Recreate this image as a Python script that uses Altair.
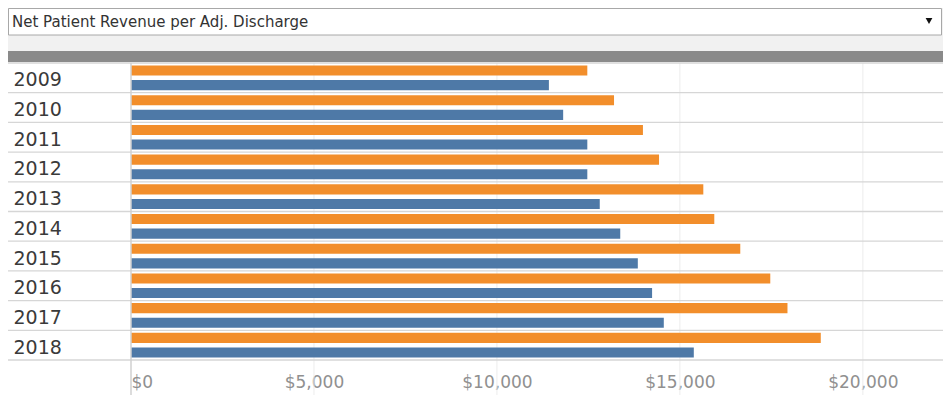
import altair as alt
import pandas as pd

# ---- data ----
years = ["2009", "2010", "2011", "2012", "2013", "2014", "2015", "2016", "2017", "2018"]
series_names = ["Hospital", "Peer Group"]
orange_values = [12470, 13200, 13990, 14430, 15640, 15940, 16650, 17470, 17940, 18850]
blue_values = [11420, 11810, 12470, 12470, 12810, 13370, 13850, 14240, 14560, 15380]
tick_values = [0, 5000, 10000, 15000, 20000]
grid_values = [5000, 10000, 15000, 20000]
menu_label = "Net Patient Revenue per Adj. Discharge"

colors = ["#F28E2B", "#4E79A7"]

rows = []
for i, y in enumerate(years):
    rows.append({"year": y, "series": series_names[0], "value": orange_values[i]})
    rows.append({"year": y, "series": series_names[1], "value": blue_values[i]})
df = pd.DataFrame(rows)
df_years = pd.DataFrame({"year": years})
df_grid = pd.DataFrame({"tick": grid_values})
one = pd.DataFrame({"k": [0]})

PW = 812   # plot width
PH = 297   # plot height (rows)
BOTTOM = 332

xscale = alt.Scale(domain=[0, 22190], nice=False, zero=True)
yscale = alt.Scale(paddingInner=0, paddingOuter=0)

x_axis = alt.Axis(values=tick_values, format="$,.0f", title=None, grid=False,
                  domain=False, ticks=False, tickSize=0, labelFlush=True,
                  labelFont="DejaVu Sans", labelFontSize=17, labelColor="#909090",
                  labelPadding=22, labelBaseline="middle")
y_axis = alt.Axis(title=None, grid=False, domain=False, ticks=False, tickSize=0,
                  labelAlign="left", labelPadding=118, labelBaseline="middle",
                  labelOffset=2.5,
                  labelFont="DejaVu Sans", labelFontSize=19, labelColor="#3a3a3a")

# ---- dashboard chrome ----
gray_band = alt.Chart(one).mark_rect(color="#8a8a8a").encode(
    x=alt.value(-123), x2=alt.value(PW), y=alt.value(-55), y2=alt.value(-1))
light_panel = alt.Chart(one).mark_rect(color="#f1f1f1").encode(
    x=alt.value(-123), x2=alt.value(PW), y=alt.value(-55), y2=alt.value(-12))
dropdown = alt.Chart(one).mark_rect(color="#ffffff", stroke="#a8a8a8", strokeWidth=1).encode(
    x=alt.value(-122.5), x2=alt.value(PW - 1.5), y=alt.value(-54.5), y2=alt.value(-28))
menu_text = alt.Chart(pd.DataFrame({"t": [menu_label]})).mark_text(
    align="left", baseline="middle", font="DejaVu Sans", fontSize=15, color="#333333"
).encode(text="t:N", x=alt.value(-119), y=alt.value(-41))
arrow = alt.Chart(one).mark_point(shape="triangle-down", filled=True, size=45,
                                  color="#111111", opacity=1).encode(
    x=alt.value(798), y=alt.value(-42))

# ---- grid / separators ----
grid = alt.Chart(df_grid).mark_rule(color="#ececec", strokeWidth=1).encode(
    x=alt.X("tick:Q", scale=xscale, axis=x_axis),
    y=alt.value(0), y2=alt.value(BOTTOM))
row_lines = alt.Chart(df_years).mark_rule(color="#d6d6d6", strokeWidth=1.3).encode(
    y=alt.Y("year:N", scale=yscale, sort=years, bandPosition=0, axis=y_axis),
    x=alt.value(-123), x2=alt.value(PW))
bottom_line = alt.Chart(one).mark_rule(color="#d6d6d6", strokeWidth=1.3).encode(
    y=alt.value(PH), x=alt.value(-123), x2=alt.value(PW))

# ---- bars ----
bars = alt.Chart(df).mark_bar().encode(
    x=alt.X("value:Q", scale=xscale, axis=x_axis),
    y=alt.Y("year:N", scale=yscale, sort=years, axis=y_axis),
    yOffset=alt.YOffset("series:N", sort=series_names,
                        scale=alt.Scale(paddingInner=0.31, paddingOuter=0.17)),
    color=alt.Color("series:N", scale=alt.Scale(domain=series_names, range=colors), legend=None),
)

zero_line = alt.Chart(one).mark_rule(color="#d0d0d0", strokeWidth=1.5).encode(
    x=alt.datum(0, scale=xscale, axis=x_axis), y=alt.value(0), y2=alt.value(BOTTOM))

chart = alt.layer(
    gray_band, light_panel, dropdown, menu_text, arrow,
    grid, row_lines, bottom_line, bars, zero_line
).properties(
    width=PW, height=PH,
    autosize=alt.AutoSizeParams(type="none"),
    padding={"left": 123, "top": 55, "right": 0, "bottom": 35},
    background="#ffffff",
).configure_view(stroke=None)

chart.save("out.html", embed_options={"renderer": "svg", "actions": False})
